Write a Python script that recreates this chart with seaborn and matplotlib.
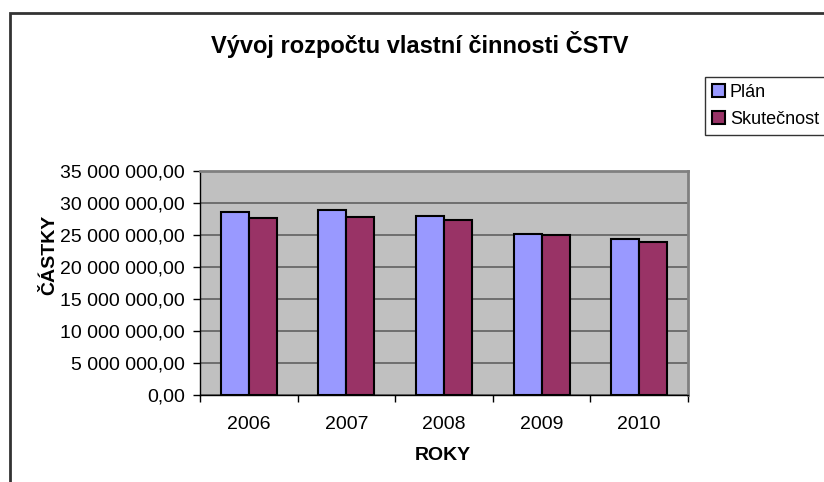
import pandas as pd
import numpy as np
import seaborn as sns
import matplotlib.pyplot as plt
from matplotlib.patches import Patch, Rectangle
from matplotlib.ticker import FuncFormatter, FixedLocator

roky = ["2006", "2007", "2008", "2009", "2010"]
plan = [28650000, 28900000, 27950000, 25150000, 24300000]
skutecnost = [27600000, 27750000, 27350000, 25000000, 23950000]

df = pd.DataFrame({
    "rok": roky * 2,
    "serie": ["Plán"] * len(roky) + ["Skutečnost"] * len(roky),
    "castka": plan + skutecnost,
})
barvy = {"Plán": "#9999FF", "Skutečnost": "#993366"}

plt.rcParams['font.family'] = ['Liberation Sans', 'DejaVu Sans']

fig = plt.figure(figsize=(8.24, 4.82), dpi=100)
fig.patch.set_facecolor("white")
ax = fig.add_axes([200 / 824, 1 - 395 / 482, 488 / 824, 224 / 482])
ax.set_facecolor("#C0C0C0")

sns.barplot(data=df, x="rok", y="castka", hue="serie", palette=barvy,
            saturation=1, width=0.575, gap=0, edgecolor="black", linewidth=1.5,
            legend=False, ax=ax, zorder=3)

ax.set_ylim(0, 35000000)
ax.set_xlim(-0.5, 4.5)
ax.set_yticks(np.arange(0, 35000001, 5000000))
ax.yaxis.set_major_formatter(FuncFormatter(
    lambda v, p: f"{v:,.2f}".replace(",", " ").replace(".", ",")))
ax.yaxis.grid(True, color="#606060", linewidth=1.2, zorder=1)
ax.set_axisbelow(True)

# ticks between categories, labels centred
ax.xaxis.set_minor_locator(FixedLocator(np.arange(-0.5, 5, 1)))
ax.tick_params(axis="x", which="major", length=0, pad=15, labelsize=14)
ax.tick_params(axis="x", which="minor", length=5, width=1, color="black", direction="out")
ax.tick_params(axis="y", length=5, width=1, color="black", direction="out", pad=6, labelsize=14)
ax.set_xlabel("")
ax.set_ylabel("")

for s in ["top", "right"]:
    ax.spines[s].set_color("#808080")
    ax.spines[s].set_linewidth(2)
for s in ["left", "bottom"]:
    ax.spines[s].set_color("black")
    ax.spines[s].set_linewidth(1)

fig.text(420 / 824, 1 - 44 / 482, "Vývoj rozpočtu vlastní činnosti ČSTV",
         ha="center", va="center", fontsize=17, fontweight="bold")
fig.text(50 / 824, 1 - 255 / 482, "ČÁSTKY", rotation=90,
         ha="center", va="center", fontsize=14, fontweight="bold")
fig.text(443 / 824, 1 - 456 / 482, "ROKY",
         ha="center", va="center", fontsize=14, fontweight="bold")

handles = [Patch(facecolor=barvy[k], edgecolor="black", linewidth=1.5) for k in barvy]
leg = fig.legend(handles, list(barvy.keys()), loc="upper left",
                 bbox_to_anchor=(705 / 824, 1 - 77 / 482), bbox_transform=fig.transFigure,
                 fontsize=13, frameon=True, fancybox=False, edgecolor="black",
                 handlelength=0.72, handleheight=0.72, handletextpad=0.25,
                 labelspacing=0.55, borderpad=0.4, borderaxespad=0)
leg.get_frame().set_linewidth(1)

# outer chart frame, cut off at right and bottom
fig.patches.append(Rectangle((10 / 824, -0.1), 1.2, 1.1 - 12.5 / 482,
                             transform=fig.transFigure, fill=False,
                             edgecolor="#333333", linewidth=2, clip_on=False))

fig.savefig("out.png", dpi=100)
